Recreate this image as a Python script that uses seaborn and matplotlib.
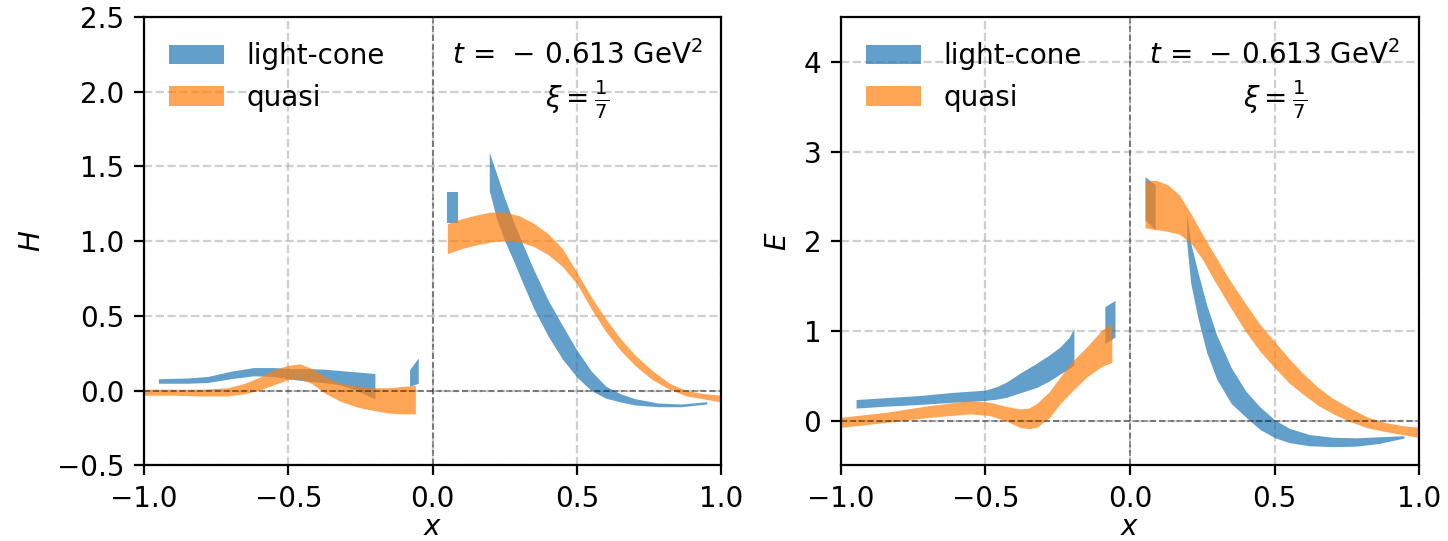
import numpy as np
import matplotlib
matplotlib.use("Agg")
import matplotlib.pyplot as plt
import seaborn as sns

# ---- H panel: light-cone bands (lower / upper edges)
lc_H_x1 = [-0.95, -0.85, -0.78, -0.70, -0.62, -0.55, -0.50, -0.44, -0.38, -0.32, -0.26, -0.20]
lc_H_lo1 = [0.05, 0.05, 0.055, 0.08, 0.10, 0.095, 0.08, 0.065, 0.055, 0.04, 0.0, -0.055]
lc_H_hi1 = [0.08, 0.085, 0.095, 0.13, 0.155, 0.155, 0.148, 0.148, 0.145, 0.135, 0.125, 0.115]

lc_H_x2 = [-0.08, -0.05]
lc_H_lo2 = [0.03, 0.05]
lc_H_hi2 = [0.14, 0.22]

lc_H_x3 = [0.051, 0.089]
lc_H_lo3 = [1.12, 1.12]
lc_H_hi3 = [1.33, 1.33]

lc_H_x4 = [0.196, 0.22, 0.25, 0.28, 0.31, 0.35, 0.40, 0.45, 0.50, 0.55, 0.60, 0.65, 0.70, 0.78, 0.86, 0.949]
lc_H_lo4 = [1.34, 1.16, 1.00, 0.87, 0.73, 0.55, 0.365, 0.21, 0.09, 0.0, -0.05, -0.075, -0.095, -0.107, -0.107, -0.089]
lc_H_hi4 = [1.595, 1.46, 1.285, 1.13, 0.99, 0.81, 0.605, 0.435, 0.27, 0.13, 0.03, -0.02, -0.053, -0.082, -0.089, -0.073]

# ---- H panel: quasi bands
qs_H_x1 = [-1.0, -0.9, -0.8, -0.71, -0.65, -0.60, -0.55, -0.50, -0.46, -0.42, -0.37, -0.32, -0.26, -0.21, -0.15, -0.10, -0.06]
qs_H_lo1 = [-0.03, -0.03, -0.035, -0.035, -0.02, 0.005, 0.04, 0.075, 0.08, 0.05, -0.02, -0.07, -0.11, -0.13, -0.15, -0.155, -0.155]
qs_H_hi1 = [0.01, 0.01, 0.01, 0.02, 0.05, 0.09, 0.14, 0.17, 0.18, 0.15, 0.09, 0.05, 0.03, 0.02, 0.02, 0.03, 0.035]

qs_H_x2 = [0.051, 0.10, 0.15, 0.20, 0.25, 0.30, 0.35, 0.40, 0.45, 0.50, 0.55, 0.60, 0.65, 0.70, 0.76, 0.82, 0.88, 0.94, 1.0]
qs_H_lo2 = [0.917, 0.95, 0.975, 0.995, 1.005, 0.995, 0.965, 0.91, 0.83, 0.715, 0.545, 0.395, 0.27, 0.17, 0.075, 0.01, -0.035, -0.055, -0.075]
qs_H_hi2 = [1.117, 1.15, 1.175, 1.195, 1.195, 1.17, 1.12, 1.05, 0.95, 0.79, 0.625, 0.48, 0.35, 0.24, 0.135, 0.05, 0.0, -0.02, -0.03]

# ---- E panel: light-cone bands
lc_E_x1 = [-0.947, -0.85, -0.727, -0.612, -0.50, -0.46, -0.427, -0.38, -0.323, -0.28, -0.242, -0.21, -0.194]
lc_E_lo1 = [0.14, 0.16, 0.18, 0.205, 0.225, 0.24, 0.26, 0.31, 0.37, 0.44, 0.52, 0.58, 0.62]
lc_E_hi1 = [0.235, 0.255, 0.28, 0.315, 0.34, 0.38, 0.43, 0.53, 0.64, 0.73, 0.82, 0.93, 1.03]

lc_E_x2 = [-0.087, -0.052]
lc_E_lo2 = [0.86, 0.93]
lc_E_hi2 = [1.27, 1.34]

lc_E_x3 = [0.052, 0.087]
lc_E_lo3 = [2.24, 2.13]
lc_E_hi3 = [2.72, 2.63]

lc_E_x4 = [0.196, 0.21, 0.235, 0.265, 0.30, 0.35, 0.40, 0.45, 0.50, 0.55, 0.62, 0.70, 0.78, 0.86, 0.947]
lc_E_lo4 = [1.98, 1.53, 1.14, 0.76, 0.46, 0.19, 0.04, -0.10, -0.19, -0.245, -0.28, -0.29, -0.285, -0.255, -0.194]
lc_E_hi4 = [2.31, 1.98, 1.65, 1.29, 0.95, 0.59, 0.33, 0.15, 0.01, -0.085, -0.155, -0.185, -0.192, -0.18, -0.168]

# ---- E panel: quasi bands
qs_E_x1 = [-1.0, -0.843, -0.693, -0.554, -0.485, -0.43, -0.381, -0.35, -0.323, -0.28, -0.242, -0.20, -0.15, -0.10, -0.063]
qs_E_lo1 = [-0.075, -0.02, 0.037, 0.075, 0.056, 0.0, -0.075, -0.09, -0.075, 0.03, 0.187, 0.33, 0.485, 0.60, 0.65]
qs_E_hi1 = [0.037, 0.093, 0.168, 0.224, 0.205, 0.16, 0.13, 0.14, 0.19, 0.32, 0.485, 0.66, 0.82, 1.0, 1.09]

qs_E_x2 = [0.052, 0.09, 0.13, 0.17, 0.21, 0.25, 0.29, 0.34, 0.40, 0.45, 0.50, 0.55, 0.60, 0.65, 0.70, 0.76, 0.82, 0.88, 0.94, 1.0]
qs_E_lo2 = [2.15, 2.13, 2.11, 2.08, 1.98, 1.80, 1.57, 1.30, 0.99, 0.77, 0.59, 0.42, 0.29, 0.17, 0.08, -0.01, -0.08, -0.12, -0.155, -0.187]
qs_E_hi2 = [2.67, 2.68, 2.63, 2.52, 2.31, 2.08, 1.86, 1.59, 1.30, 1.07, 0.88, 0.69, 0.52, 0.37, 0.25, 0.14, 0.04, -0.02, -0.055, -0.075]

H_lc = [(lc_H_x1, lc_H_lo1, lc_H_hi1), (lc_H_x2, lc_H_lo2, lc_H_hi2),
        (lc_H_x3, lc_H_lo3, lc_H_hi3), (lc_H_x4, lc_H_lo4, lc_H_hi4)]
H_qs = [(qs_H_x1, qs_H_lo1, qs_H_hi1), (qs_H_x2, qs_H_lo2, qs_H_hi2)]
E_lc = [(lc_E_x1, lc_E_lo1, lc_E_hi1), (lc_E_x2, lc_E_lo2, lc_E_hi2),
        (lc_E_x3, lc_E_lo3, lc_E_hi3), (lc_E_x4, lc_E_lo4, lc_E_hi4)]
E_qs = [(qs_E_x1, qs_E_lo1, qs_E_hi1), (qs_E_x2, qs_E_lo2, qs_E_hi2)]

annot_t = "$t\\,=\\,-\\,0.613$ GeV$^2$"
annot_xi = "$\\xi=\\frac{1}{7}$"

sns.set_style("ticks", {"axes.edgecolor": "black", "xtick.color": "black",
                        "ytick.color": "black", "text.color": "black",
                        "axes.labelcolor": "black"})
plt.rcParams["font.family"] = ["DejaVu Sans"]
plt.rcParams["font.size"] = 10
plt.rcParams["xtick.direction"] = "out"
plt.rcParams["ytick.direction"] = "out"

colors = sns.color_palette("tab10")

fig = plt.figure(figsize=(7.24, 2.705), dpi=200)
ax1 = fig.add_axes([0.0994, 0.1396, 0.3988, 0.829])
ax2 = fig.add_axes([0.5806, 0.1396, 0.3996, 0.829])


def draw_panel(ax, lc_bands, qs_bands, ylabel, ylim, yticks):
    for i, (x, lo, hi) in enumerate(lc_bands):
        ax.fill_between(x, lo, hi, color=colors[0], alpha=0.7, lw=0,
                        label="light-cone" if i == 0 else None)
    for i, (x, lo, hi) in enumerate(qs_bands):
        ax.fill_between(x, lo, hi, color=colors[1], alpha=0.7, lw=0,
                        label="quasi" if i == 0 else None)
    ax.axhline(0, color="k", ls="--", lw=0.6, alpha=0.5)
    ax.axvline(0, color="k", ls="--", lw=0.6, alpha=0.5)
    ax.grid(True, ls="--", color="#b0b0b0", lw=0.8, alpha=0.6)
    ax.set_xlim(-1, 1)
    ax.set_ylim(*ylim)
    ax.set_xticks([-1.0, -0.5, 0.0, 0.5, 1.0])
    ax.set_yticks(yticks)
    ax.set_xlabel("$x$", labelpad=0)
    ax.set_ylabel(ylabel)
    ax.legend(loc="upper left", frameon=False)
    ax.text(0.75, 0.915, annot_t, transform=ax.transAxes, ha="center", va="center")
    ax.text(0.75, 0.815, annot_xi, transform=ax.transAxes, ha="center", va="center")


draw_panel(ax1, H_lc, H_qs, "$H$", (-0.5, 2.5), [-0.5, 0.0, 0.5, 1.0, 1.5, 2.0, 2.5])
draw_panel(ax2, E_lc, E_qs, "$E$", (-0.5, 4.5), [0, 1, 2, 3, 4])

fig.savefig("out.png", dpi=200)
